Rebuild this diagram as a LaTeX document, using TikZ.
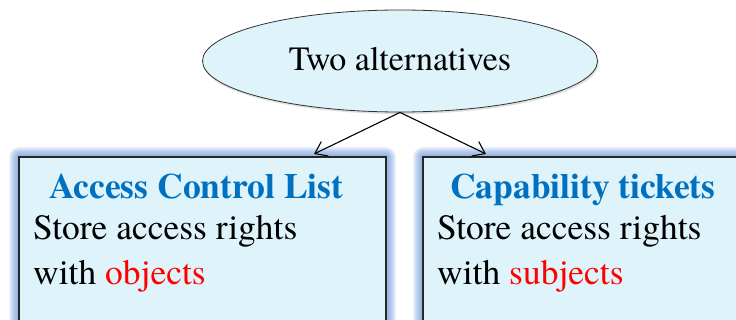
\documentclass[tikz,border=0pt]{standalone}
\usepackage{fontspec}
\setmainfont{texgyretermes}[Extension=.otf, UprightFont=*-regular, BoldFont=*-bold, ItalicFont=*-italic, BoldItalicFont=*-bolditalic]
\usetikzlibrary{arrows.meta,shapes.geometric}
\definecolor{boxfill}{RGB}{222,244,250}
\definecolor{glow}{RGB}{100,145,215}
\definecolor{titleblue}{RGB}{0,112,192}
\definecolor{hired}{RGB}{255,0,0}
\tikzset{
  panel/.style={draw=black!85, line width=1.1pt, fill=boxfill},
  bodytext/.style={anchor=base west, inner sep=0pt, font=\fontsize{35.5}{40}\selectfont},
  titletext/.style={anchor=base west, inner sep=0pt, text=titleblue, font=\fontsize{35.5}{40}\selectfont\bfseries},
  link/.style={line width=1.1pt, -{Straight Barb[length=11pt,width=16pt,line width=1.1pt]}}
}
\begin{document}
\begin{tikzpicture}[x=1pt,y=-1pt]
  \useasboundingbox (0,0) rectangle (736,320);
  \clip (0,0) rectangle (736,320);
  % soft blue halo around both panels
  \foreach \g in {10,9,...,1}{
    \fill[glow, opacity=0.11, rounded corners=\g] (19-\g,157-\g) rectangle (386+\g,340);
    \fill[glow, opacity=0.11, rounded corners=\g] (423-\g,157-\g) rectangle (760,340);
  }
  \draw[panel] (19,157) rectangle (386,340);
  \draw[panel] (423,157) rectangle (760,340);
  % top ellipse
  \fill[black, opacity=0.12] (401,63) ellipse [x radius=198, y radius=51];
  \node (top) [draw=black!80, line width=0.8pt, fill=boxfill, ellipse, minimum width=395, minimum height=102, inner sep=0pt] at (400,61) {};
  \node (toptext) [inner sep=0pt, font=\fontsize{34}{40}\selectfont] at (400,59) {Two alternatives};
  % arrow targets on the panel tops
  \coordinate (lefttip) at (314,154);
  \coordinate (righttip) at (486,154);
  \draw[link] (top.south) -- (lefttip);
  \draw[link] (top.south) -- (righttip);
  % left panel texts
  \node (acltitle) [titletext] at (49,199) {Access Control List};
  \node (aclline1) [bodytext] at (33,240) {Store access rights};
  \node (aclline2) [bodytext] at (33,285) {with \textcolor{hired}{objects}};
  % right panel texts
  \node (captitle) [titletext] at (450,199) {Capability tickets};
  \node (capline1) [bodytext] at (437,240) {Store access rights};
  \node (capline2) [bodytext] at (437,285) {with \textcolor{hired}{subjects}};
\end{tikzpicture}
\end{document}
